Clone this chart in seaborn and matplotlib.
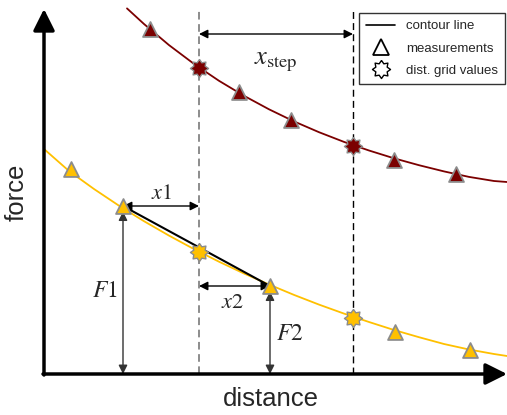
import numpy as np
import pandas as pd
import seaborn as sns
import matplotlib.pyplot as plt
from matplotlib.lines import Line2D

# === Data (distance / force in drawing units) ===
# contour lines
yellow_curve_dist = [0, 25, 50, 75, 100, 125, 150, 175, 200, 225, 250, 275, 300,
                     325, 350, 375, 400, 425, 450, 463]
yellow_curve_force = [225, 203, 185, 168.3, 152.8, 138.4, 124.9, 112.3, 100.5, 89.5,
                      79.1, 69.4, 60.4, 52.0, 44.0, 36.8, 30.0, 24.5, 20.0, 18.0]
red_curve_dist = [83, 100, 125, 150, 175, 200, 225, 250, 275, 300, 325, 350, 375,
                  400, 425, 450, 463]
red_curve_force = [365.6, 350.0, 328.9, 310.1, 293.2, 278.2, 264.7, 252.6, 241.8,
                   232.1, 223.5, 215.7, 208.8, 202.6, 197.1, 193.0, 192.0]

# measurements
yellow_meas_dist = [27, 79, 226, 351, 426]
yellow_meas_force = [205, 168, 88, 42, 24]
red_meas_dist = [106, 195, 247, 350, 412]
red_meas_force = [345, 282, 254, 214, 200]

# distance grid values
grid_dist = [155, 309]
yellow_grid_force = [122, 56]
red_grid_force = [306, 227.5]

# === Style ===
sns.set_style("white")
plt.rcParams['font.family'] = ['Liberation Sans', 'DejaVu Sans']
plt.rcParams['mathtext.fontset'] = 'stix'

YELLOW, RED, EDGE = "#FFC000", "#7B0000", "#8C8C8C"

# blunt 8-point star marker
ang = np.linspace(0, 2 * np.pi, 17)[:-1] + np.pi / 2
rad = np.where(np.arange(16) % 2 == 0, 1.0, 0.68)
star = np.column_stack([rad * np.cos(ang), rad * np.sin(ang)])
star = np.vstack([star, star[:1]])

fig = plt.figure(figsize=(5.07, 4.15), dpi=100)
ax = fig.add_axes([0, 0, 1, 1])
ax.set_xlim(-44, 463)
ax.set_ylim(-41, 374)
ax.axis("off")

# contour lines
sns.lineplot(x=yellow_curve_dist, y=yellow_curve_force, color=YELLOW, lw=1.3,
             estimator=None, ax=ax, zorder=2)
sns.lineplot(x=red_curve_dist, y=red_curve_force, color=RED, lw=1.3,
             estimator=None, ax=ax, zorder=2)

# grid lines
ax.plot([grid_dist[0]] * 2, [0, 366], color="#6E6E6E", lw=1.1, ls=(0, (5, 3)), zorder=1)
ax.plot([grid_dist[1]] * 2, [0, 366], color="black", lw=1.0, ls=(0, (5, 3)), zorder=1)

# interpolation line between the two measurements
ax.plot([yellow_meas_dist[1], yellow_meas_dist[2]],
        [yellow_meas_force[1], yellow_meas_force[2]], color="black", lw=1.5, zorder=3)

# markers
for d, f, c in [(yellow_meas_dist, yellow_meas_force, YELLOW), (red_meas_dist, red_meas_force, RED)]:
    sns.scatterplot(x=d, y=f, marker="^", s=115, color=c, edgecolor=EDGE,
                    linewidth=1.3, ax=ax, zorder=4)
for f, c in [(yellow_grid_force, YELLOW), (red_grid_force, RED)]:
    sns.scatterplot(x=grid_dist, y=f, marker=star, s=170, color=c, edgecolor=EDGE,
                    linewidth=1.0, ax=ax, zorder=4)

# axes arrows
ax.annotate("", xy=(463, 0), xytext=(-1, 0),
            arrowprops=dict(arrowstyle="-|>,head_length=0.5,head_width=0.25", color="black",
                            lw=2.5, mutation_scale=26, shrinkA=0, shrinkB=0), zorder=5)
ax.annotate("", xy=(0, 365), xytext=(0, -1),
            arrowprops=dict(arrowstyle="-|>,head_length=0.5,head_width=0.25", color="black",
                            lw=2.5, mutation_scale=26, shrinkA=0, shrinkB=0), zorder=5)
ax.text(227, -25, "distance", ha="center", va="center", fontsize=18.5)
ax.text(-27, 182, "force", ha="center", va="center", rotation=90, fontsize=18.5)

def dim_arrow(p0, p1, color="black", sa=0, sb=0):
    ax.annotate("", xy=p1, xytext=p0,
                arrowprops=dict(arrowstyle="<|-|>", color=color, lw=1.0,
                                mutation_scale=13, shrinkA=sa, shrinkB=sb), zorder=3)

dim_arrow((yellow_meas_dist[1], yellow_meas_force[1]), (grid_dist[0], yellow_meas_force[1]))
dim_arrow((grid_dist[0], yellow_meas_force[2]), (yellow_meas_dist[2], yellow_meas_force[2]))
dim_arrow((yellow_meas_dist[1], 0), (yellow_meas_dist[1], yellow_meas_force[1]), "#333333", 0, 4)
dim_arrow((yellow_meas_dist[2], 0), (yellow_meas_dist[2], yellow_meas_force[2]), "#333333", 0, 4)
dim_arrow((grid_dist[0], 340), (grid_dist[1], 340))

ax.text(118, 181, "$x1$", ha="center", va="center", fontsize=16)
ax.text(189, 72, "$x2$", ha="center", va="center", fontsize=16)
ax.text(61, 83, "$F1$", ha="center", va="center", fontsize=17)
ax.text(246, 40, "$F2$", ha="center", va="center", fontsize=17)
ax.text(232, 312, r"$x_{\mathrm{step}}$", ha="center", va="center", fontsize=19)

# legend
handles = [
    Line2D([], [], color="black", lw=1.2),
    Line2D([], [], marker="^", ls="", ms=12, mfc="white", mec="black", mew=1.3),
    Line2D([], [], marker=star, ls="", ms=13, mfc="white", mec="black", mew=1.0),
]
leg = ax.legend(handles, ["contour line", "measurements", "dist. grid values"],
                loc="upper right", bbox_to_anchor=(505 / 507, 1 - 13 / 415),
                fontsize=9.5, frameon=True, fancybox=False, borderaxespad=0,
                handlelength=2.2, handletextpad=0.8, labelspacing=0.75, borderpad=0.55)
leg.get_frame().set_edgecolor("black")
leg.get_frame().set_linewidth(1.0)

fig.savefig("out.png", dpi=100)
